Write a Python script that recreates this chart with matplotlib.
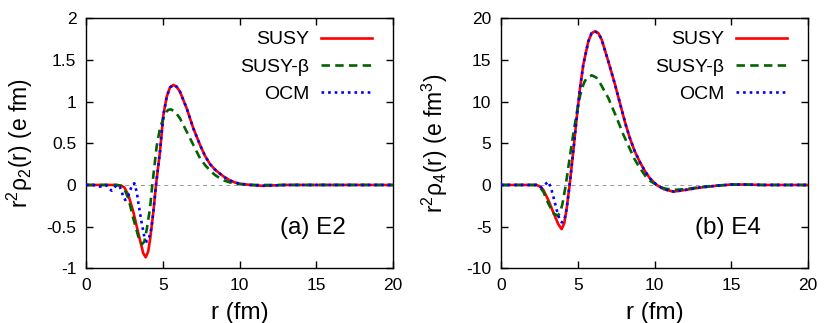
import numpy as np
import matplotlib
matplotlib.use("Agg")
import matplotlib.pyplot as plt
from matplotlib.ticker import FuncFormatter

plt.rcParams['font.family'] = ['Liberation Sans', 'DejaVu Sans']
plt.rcParams['mathtext.fontset'] = 'custom'
plt.rcParams['mathtext.rm'] = 'Liberation Sans'
plt.rcParams['mathtext.it'] = 'Liberation Sans'
plt.rcParams['axes.unicode_minus'] = False

### values ###
# (a) E2 : r^2 rho_2(r)
r_e2_susy = [0, 1, 2.0, 2.3, 2.5, 2.76, 3.08, 3.41, 3.73, 3.89, 4.05, 4.17, 4.39, 4.56,
             4.82, 5.04, 5.26, 5.47, 5.69, 5.9, 6.12, 6.56, 6.99, 7.43, 7.75, 8.08, 8.4,
             8.73, 9.05, 9.38, 9.7, 10.03, 10.7, 11.5, 13, 20]
v_e2_susy = [0, 0, 0, -0.01, -0.03, -0.12, -0.32, -0.58, -0.82, -0.868, -0.80, -0.66, -0.32, 0.0,
             0.40, 0.84, 1.06, 1.17, 1.20, 1.18, 1.12, 0.92, 0.68, 0.48, 0.35, 0.25, 0.185,
             0.135, 0.09, 0.055, 0.03, 0.015, 0.0, -0.01, 0, 0]

r_e2_beta = [0, 2.0, 2.3, 2.5, 2.76, 3.08, 3.41, 3.65, 3.8, 3.95, 4.17, 4.32, 4.6, 4.82,
             5.15, 5.35, 5.52, 5.8, 6.12, 6.45, 6.78, 7.1, 7.43, 7.75, 8.08, 8.4, 8.73, 9.05,
             9.38, 10.0, 11, 20]
v_e2_beta = [0, 0, -0.01, -0.05, -0.16, -0.40, -0.62, -0.71, -0.68, -0.54, -0.28, 0.0, 0.46, 0.68,
             0.86, 0.90, 0.908, 0.88, 0.80, 0.68, 0.56, 0.44, 0.32, 0.24, 0.175, 0.12, 0.08, 0.05,
             0.03, 0.01, 0, 0]

r_e2_ocm = [0, 0.5, 0.9, 1.3, 1.67, 2.0, 2.2, 2.4, 2.55, 2.7, 2.85, 3.0, 3.15, 3.3, 3.45,
            3.63, 3.8, 3.95, 4.1, 4.25, 4.39, 4.56, 4.82, 5.04, 5.26, 5.47, 5.69, 5.9, 6.12,
            6.56, 6.99, 7.43, 7.75, 8.08, 8.4, 8.73, 9.05, 9.38, 9.7, 10.03, 10.7, 11.5, 13, 20]
v_e2_ocm = [0, 0, -0.02, 0, -0.07, 0, -0.02, -0.12, -0.18, -0.16, -0.08, 0.0, 0.02, -0.08, -0.26,
            -0.46, -0.62, -0.68, -0.64, -0.53, -0.32, 0.0, 0.40, 0.84, 1.06, 1.17, 1.20, 1.18, 1.12,
            0.92, 0.68, 0.48, 0.35, 0.25, 0.185, 0.135, 0.09, 0.055, 0.03, 0.015, 0.0, -0.01, 0, 0]

# (b) E4 : r^2 rho_4(r)
r_e4_susy = [0, 2.0, 2.3, 2.5, 2.76, 3.08, 3.41, 3.73, 3.95, 4.12, 4.28, 4.47, 4.71, 4.93,
             5.15, 5.36, 5.69, 5.9, 6.12, 6.35, 6.56, 6.99, 7.43, 7.86, 8.13, 8.4, 8.7, 9.06,
             9.4, 9.7, 10.14, 10.6, 11.23, 12, 13, 14, 15, 16, 17, 20]
v_e4_susy = [0, 0, 0, -0.15, -0.6, -1.8, -3.3, -4.7, -5.3, -4.6, -2.8, 0.0, 4.04, 8.04,
             11.64, 14.44, 17.24, 18.2, 18.44, 18.2, 17.44, 14.84, 12.04, 9.04, 7.2, 5.6, 4.1, 2.7,
             1.6, 0.8, 0.0, -0.5, -0.8, -0.6, -0.3, -0.1, 0.05, 0.05, 0, 0]

r_e4_beta = [0, 2.3, 2.5, 2.76, 3.08, 3.41, 3.7, 3.85, 4.0, 4.22, 4.6, 4.93, 5.1, 5.26, 5.42,
             5.58, 5.91, 6.2, 6.45, 6.99, 7.54, 7.97, 8.4, 8.7, 9.06, 9.4, 9.7, 10.14, 10.6,
             11.23, 12, 13, 14, 15, 16, 17, 20]
v_e4_beta = [0, 0, -0.2, -0.8, -2.2, -3.4, -3.7, -3.3, -2.3, 0.0, 4.84, 8.6, 10.3, 11.5, 12.3,
             12.84, 13.16, 12.9, 12.24, 10.44, 8.04, 6.04, 4.3, 3.1, 2.0, 1.1, 0.5, 0.0, -0.4,
             -0.6, -0.5, -0.25, -0.08, 0.05, 0.03, 0, 0]

r_e4_ocm = [0, 2.3, 2.5, 2.7, 2.9, 3.08, 3.25, 3.41, 3.63, 3.84, 3.98, 4.12, 4.2, 4.28, 4.47,
            4.71, 4.93, 5.15, 5.36, 5.69, 5.9, 6.12, 6.35, 6.56, 6.99, 7.43, 7.86, 8.13, 8.4,
            8.7, 9.06, 9.4, 9.7, 10.14, 10.6, 11.23, 12, 13, 14, 15, 16, 17, 20]
v_e4_ocm = [0, 0, -0.2, -0.3, 0.1, 0.4, -0.3, -1.4, -3.0, -4.3, -4.5, -4.2, -3.6, -2.8, 0.0,
            4.04, 8.04, 11.64, 14.44, 17.24, 18.2, 18.44, 18.2, 17.44, 14.84, 12.04, 9.04, 7.2, 5.6,
            4.1, 2.7, 1.6, 0.8, 0.0, -0.5, -0.8, -0.6, -0.3, -0.1, 0.05, 0.05, 0, 0]

labels = ['SUSY', 'SUSY-\u03b2', 'OCM']
panels = [
    dict(tag='(a) E2', ylim=(-1, 2), yticks=np.arange(-1, 2.01, 0.5),
         ylabel=r'r$^{2}\mathrm{\rho}_{2}$(r) (e fm)',
         data=[(r_e2_susy, v_e2_susy), (r_e2_beta, v_e2_beta), (r_e2_ocm, v_e2_ocm)]),
    dict(tag='(b) E4', ylim=(-10, 20), yticks=np.arange(-10, 20.1, 5),
         ylabel=r'r$^{2}\mathrm{\rho}_{4}$(r) (e fm$^{3}$)',
         data=[(r_e4_susy, v_e4_susy), (r_e4_beta, v_e4_beta), (r_e4_ocm, v_e4_ocm)]),
]

W, H = 830, 323
fig = plt.figure(figsize=(W / 100, H / 100), dpi=100)

styles = [dict(color='#ff0000', lw=1.9, ls='-'),
          dict(color='#006400', lw=1.9, ls=(0, (3.2, 2.0))),
          dict(color='#0000ff', lw=1.9, ls=(0, (1.0, 1.5)))]

for i, p in enumerate(panels):
    left = (86 + 415 * i) / W
    ax = fig.add_axes([left, 54.7 / H, 307 / W, 250 / H])
    ax.axhline(0, color='#999999', lw=0.7, ls=(0, (4, 4)), zorder=1)
    for (r, v), lab, st in zip(p['data'], labels, styles):
        ax.plot(r, v, label=lab, zorder=3, **st)
    ax.set_xlim(0, 20)
    ax.set_ylim(*p['ylim'])
    ax.set_xticks([0, 5, 10, 15, 20])
    ax.set_yticks(p['yticks'])
    ax.yaxis.set_major_formatter(FuncFormatter(lambda y, pos: '%g' % y))
    ax.tick_params(direction='in', length=5, width=1, top=True, right=True,
                   labelsize=12.5, pad=7)
    for s in ax.spines.values():
        s.set_linewidth(1)
    ax.set_xlabel('r (fm)', fontsize=17.5)
    ax.xaxis.set_label_coords(0.5, -0.135)
    ax.set_ylabel(p['ylabel'], fontsize=16.5)
    ax.yaxis.set_label_coords(-0.166, 0.5)
    ax.text(0.739, 0.161, p['tag'], transform=ax.transAxes, fontsize=17.5,
            ha='center', va='center')
    ax.legend(loc='upper right', bbox_to_anchor=(0.9306, 0.95), frameon=False,
              markerfirst=False, fontsize=14, handlelength=2.6, handletextpad=0.6,
              labelspacing=0.5, borderpad=0, borderaxespad=0)

fig.savefig('out.png', dpi=100)
